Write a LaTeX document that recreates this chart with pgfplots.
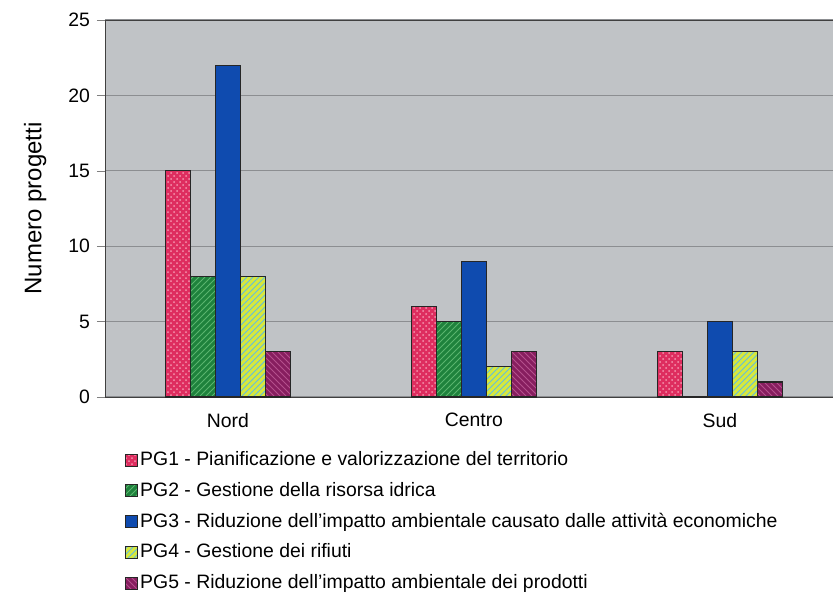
\documentclass[border=0pt]{standalone}
\usepackage{fontspec}
\setmainfont{Liberation Sans}
\usepackage{pgfplots}
\pgfplotsset{compat=1.18}
\usetikzlibrary{patterns}

\definecolor{plotbg}{RGB}{192,195,198}
\definecolor{gridc}{RGB}{140,142,145}
\definecolor{pgone}{RGB}{222,45,95}
\definecolor{pgonel}{RGB}{245,150,175}
\definecolor{pgtwo}{RGB}{30,130,60}
\definecolor{pgtwol}{RGB}{90,180,110}
\definecolor{pgthree}{RGB}{15,75,175}
\definecolor{pgfour}{RGB}{215,232,60}
\definecolor{pgfourl}{RGB}{100,190,220}
\definecolor{pgfive}{RGB}{135,30,95}
\definecolor{pgfivel}{RGB}{180,80,140}

\begin{document}
\begin{tikzpicture}
\begin{axis}[
    scale only axis,
    width=364pt, height=188.5pt,
    ybar=0pt, bar width=12.5pt,
    xmin=-0.5, xmax=2.46,
    ymin=0, ymax=25,
    xtick={0,1,2},
    xticklabels={Nord,Centro,Sud},
    ytick={0,5,10,15,20,25},
    ytick pos=left,
    tick align=outside,
    major tick length=4pt,
    xtick style={draw=none},
    xticklabel style={yshift=-0.5pt},
    axis background/.style={fill=plotbg},
    axis line style={black!75},
    ymajorgrids,
    major grid style={gridc, line width=0.6pt},
    font=\fontsize{9.7}{11.6}\selectfont,
    /pgf/number format/assume math mode=true,
    ylabel={Numero progetti},
    every axis y label/.style={at={(axis description cs:-0.096,0.5)}, rotate=90, anchor=center,
        font=\fontsize{12}{14}\selectfont},
    legend image code/.code={\draw[#1, line width=0.5pt] (0pt,-3pt) rectangle (6pt,3pt);},
    legend style={at={(axis description cs:0.019,-0.128)}, anchor=north west,
        draw=none, fill=none, row sep=4.8pt,
        nodes={inner sep=1pt}},
    legend cell align=left,
    every axis plot/.append style={draw=black!85, line width=0.6pt},
]
\addplot[fill=pgone, postaction={pattern=crosshatch dots, pattern color=pgonel}] coordinates {(0,15) (1,6) (2,3)};
\addplot[fill=pgtwo, postaction={pattern=north east lines, pattern color=pgtwol}] coordinates {(0,8) (1,5) (2,0)};
\addplot[fill=pgthree] coordinates {(0,22) (1,9) (2,5)};
\addplot[fill=pgfour, postaction={pattern=north east lines, pattern color=pgfourl}] coordinates {(0,8) (1,2) (2,3)};
\addplot[fill=pgfive, postaction={pattern=north west lines, pattern color=pgfivel}] coordinates {(0,3) (1,3) (2,1)};
\legend{PG1 - Pianificazione e valorizzazione del territorio,
        PG2 - Gestione della risorsa idrica,
        PG3 - Riduzione dell'impatto ambientale causato dalle attività economiche,
        PG4 - Gestione dei rifiuti,
        PG5 - Riduzione dell'impatto ambientale dei prodotti}
\end{axis}
\pgfresetboundingbox
\path (-52.5pt,-99.5pt) rectangle (364pt,198.5pt);
\end{tikzpicture}
\end{document}
